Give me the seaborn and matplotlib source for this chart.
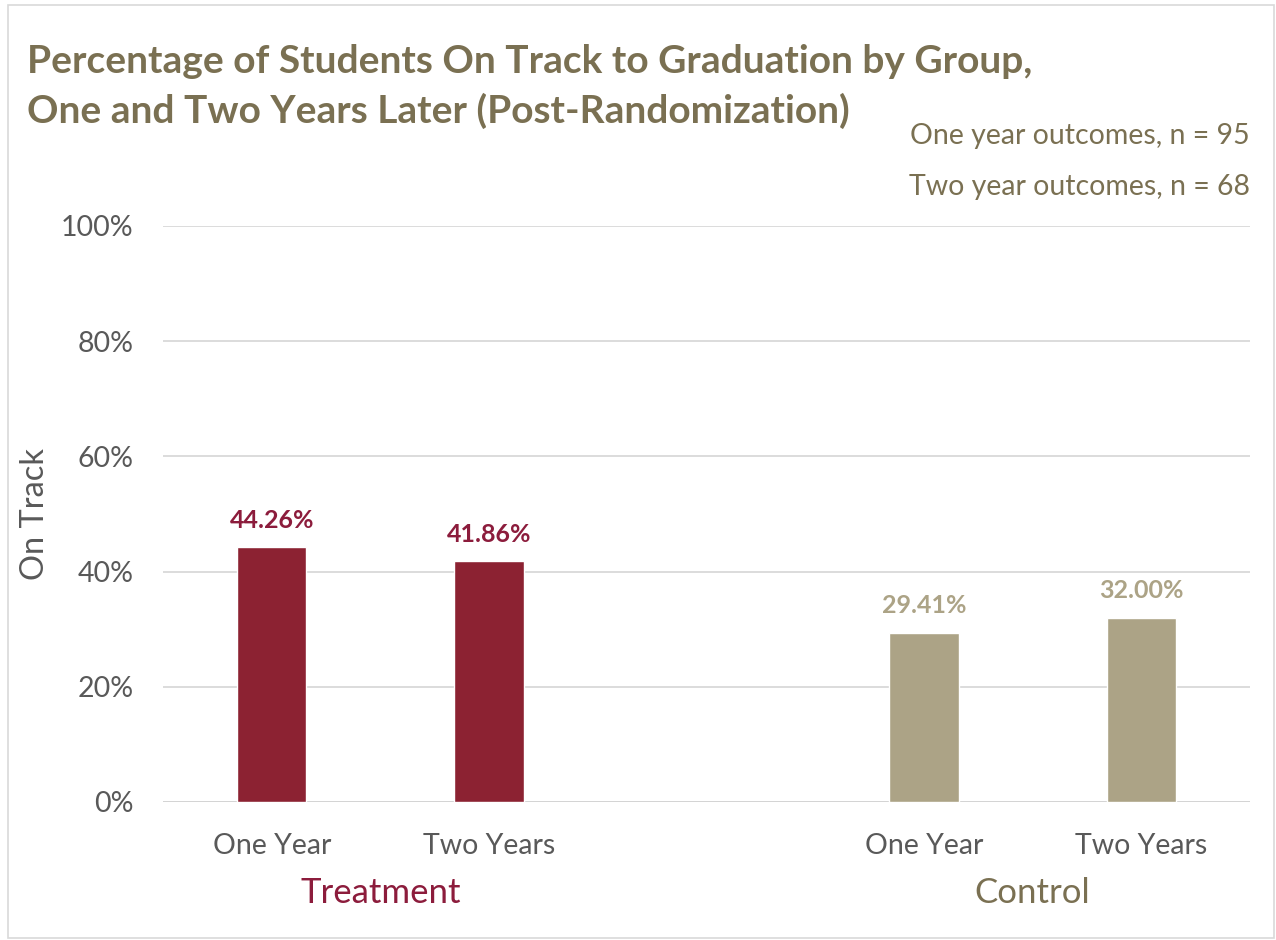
import matplotlib
matplotlib.use("Agg")
import matplotlib.pyplot as plt
import seaborn as sns
import pandas as pd
from matplotlib.patches import Rectangle

# Data
groups = ["Treatment", "Treatment", "Control", "Control"]
periods = ["One Year", "Two Years", "One Year", "Two Years"]
on_track = [0.4426, 0.4186, 0.2941, 0.3200]
value_labels = ["44.26%", "41.86%", "29.41%", "32.00%"]
y_ticks = [0.0, 0.2, 0.4, 0.6, 0.8, 1.0]
y_tick_labels = ["0%", "20%", "40%", "60%", "80%", "100%"]
notes = ["One year outcomes, n = 95", "Two year outcomes, n = 68"]
title = ("Percentage of Students On Track to Graduation by Group,\n"
         "One and Two Years Later (Post-Randomization)")

treat_color = "#8C2232"
ctrl_color = "#ACA386"
olive = "#7A7052"
treat_text = "#8C1C3C"
tick_gray = "#595959"

sns.set_theme(style="white")
plt.rcParams["font.family"] = ["Lato", "DejaVu Sans"]

df = pd.DataFrame({"group": groups, "period": periods, "value": on_track})
df["slot"] = df["group"] + " " + df["period"]
order = ["Treatment One Year", "Treatment Two Years", "gap",
         "Control One Year", "Control Two Years"]
palette = {"Treatment": treat_color, "Control": ctrl_color}

fig = plt.figure(figsize=(12.76, 9.40), dpi=100)
ax = fig.add_axes([163 / 1276, 1 - 802 / 940, (1250 - 163) / 1276, (802 - 226) / 940])

sns.barplot(data=df, x="slot", y="value", hue="group", order=order,
            palette=palette, width=0.32, dodge=False, legend=False,
            saturation=1, ax=ax, zorder=3)

ax.set_ylim(0, 1.0)
ax.set_xlim(-0.5, 4.5)
ax.set_yticks(y_ticks)
ax.set_yticklabels(y_tick_labels)
ax.set_xticks(range(5))
ax.set_xticklabels(["One Year", "Two Years", "", "One Year", "Two Years"])
ax.tick_params(axis="y", labelsize=20.5, labelcolor=tick_gray, length=0, pad=21)
ax.tick_params(axis="x", labelsize=20.5, labelcolor=tick_gray, length=0, pad=22)
ax.set_xlabel("")
ax.set_ylabel("On Track", fontsize=23.5, color=tick_gray)
ax.yaxis.set_label_coords(-(163 - 35) / 1087, 0.5)
ax.yaxis.label.set_va("center")

for s in ax.spines.values():
    s.set_visible(False)
for y in y_ticks:
    ax.axhline(y, color="#D9D9D9" if y > 0 else "#D0D0D0", lw=1.3, zorder=1)

# Value labels above bars
bar_colors = [treat_text, treat_text, "#ACA386", "#ACA386"]
slot_pos = {name: i for i, name in enumerate(order)}
for slot, val, lab, c in zip(df["slot"], on_track, value_labels, bar_colors):
    ax.annotate(lab, (slot_pos[slot], val), xytext=(0, 11), textcoords="offset points",
                ha="center", va="bottom", fontsize=18, fontweight="bold", color=c)

# Group labels below the categories
ax.text(0.5, -0.158, "Treatment", transform=ax.get_xaxis_transform(),
        ha="center", va="center", fontsize=25, color=treat_text)
ax.text(3.5, -0.158, "Control", transform=ax.get_xaxis_transform(),
        ha="center", va="center", fontsize=25, color=olive)

# Title and sample-size notes
fig.text(27 / 1276, 1 - 44 / 940, title, ha="left", va="top", fontsize=28,
         fontweight="bold", color=olive, linespacing=1.45)
fig.text(1250 / 1276, 1 - 136 / 940, notes[0], ha="right", va="center",
         fontsize=20.5, color=olive)
fig.text(1250 / 1276, 1 - 187 / 940, notes[1], ha="right", va="center",
         fontsize=20.5, color=olive)

# Chart-area border
fig.patches.append(Rectangle((8 / 1276, 0.002), 1 - 10 / 1276, 1 - 7 / 940,
                             transform=fig.transFigure, fill=False,
                             edgecolor="#D9D9D9", lw=1.2))

fig.savefig("out.png", dpi=100)
